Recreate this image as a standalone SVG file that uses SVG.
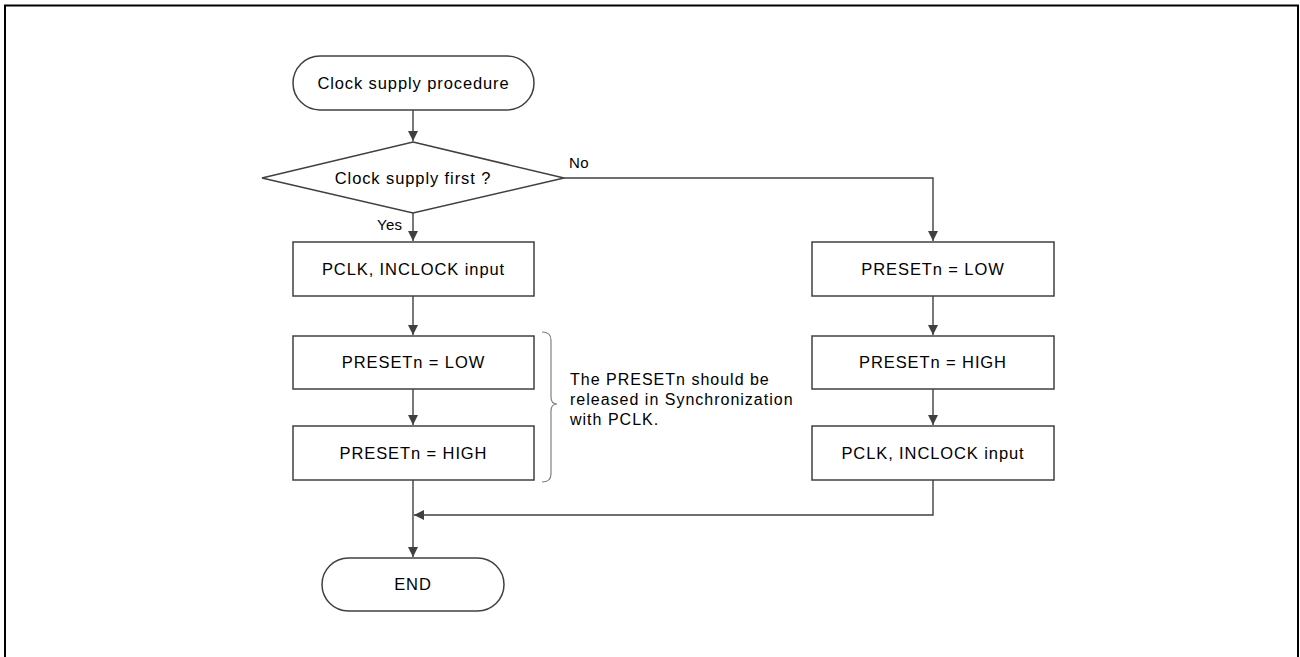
<svg xmlns="http://www.w3.org/2000/svg" width="1300" height="657" viewBox="0 0 1300 657">
<style>
.shape{fill:#fff;stroke:#404040;stroke-width:1.5}
.line{fill:none;stroke:#404040;stroke-width:1.4}
.t{font-family:"Liberation Sans",Arial,sans-serif;font-size:16.5px;letter-spacing:0.9px;fill:#000}
.c{text-anchor:middle}
.s{font-size:15px;letter-spacing:0.3px}
.n{font-size:16px;letter-spacing:1px}
</style>
<defs>
<marker id="ah" viewBox="0 0 10 10" refX="10" refY="5" markerWidth="10" markerHeight="10" markerUnits="userSpaceOnUse" orient="auto">
<path d="M0,0 L10,5 L0,10 z" fill="#404040"/>
</marker>
</defs>
<path d="M5,657 V5.5 H1298 V657" fill="none" stroke="#000" stroke-width="2"/>
<g id="connectors">
<path class="line" d="M413,110 V141" marker-end="url(#ah)"/>
<path class="line" d="M413,213 V241" marker-end="url(#ah)"/>
<path class="line" d="M564,178 H933 V241" marker-end="url(#ah)"/>
<path class="line" d="M413,296 V335" marker-end="url(#ah)"/>
<path class="line" d="M413,389 V425" marker-end="url(#ah)"/>
<path class="line" d="M413,480 V557" marker-end="url(#ah)"/>
<path class="line" d="M933,296 V335" marker-end="url(#ah)"/>
<path class="line" d="M933,389 V425" marker-end="url(#ah)"/>
<path class="line" d="M933,480 V515 H414" marker-end="url(#ah)"/>
<text class="t s" x="569" y="168">No</text>
<text class="t s" x="377" y="230">Yes</text>
</g>
<g id="start">
<rect class="shape" x="293" y="56" width="241" height="54" rx="27"/>
<text class="t c" x="413.5" y="88.5">Clock supply procedure</text>
</g>
<g id="decision">
<path class="shape" d="M413,142 L564,178 L413,213 L262,178 z"/>
<text class="t c" x="413" y="183.5">Clock supply first ?</text>
</g>
<g id="left-pclk">
<rect class="shape" x="293" y="242" width="241" height="54"/>
<text class="t c" x="413.5" y="275">PCLK, INCLOCK input</text>
</g>
<g id="left-low">
<rect class="shape" x="293" y="336" width="241" height="53"/>
<text class="t c" x="413.5" y="368">PRESETn = LOW</text>
</g>
<g id="left-high">
<rect class="shape" x="293" y="426" width="241" height="54"/>
<text class="t c" x="413.5" y="459">PRESETn = HIGH</text>
</g>
<g id="note">
<path d="M542,332 Q551,332 551,340 V397 Q551,404 557,404 Q551,404 551,411 V474 Q551,482 542,482" fill="none" stroke="#808080" stroke-width="1.2"/>
<text class="t n" x="570" y="385">The PRESETn should be</text>
<text class="t n" x="570" y="405">released in Synchronization</text>
<text class="t n" x="570" y="425">with PCLK.</text>
</g>
<g id="right-low">
<rect class="shape" x="812" y="242" width="242" height="54"/>
<text class="t c" x="933" y="275">PRESETn = LOW</text>
</g>
<g id="right-high">
<rect class="shape" x="812" y="336" width="242" height="53"/>
<text class="t c" x="933" y="368">PRESETn = HIGH</text>
</g>
<g id="right-pclk">
<rect class="shape" x="812" y="426" width="242" height="54"/>
<text class="t c" x="933" y="459">PCLK, INCLOCK input</text>
</g>
<g id="end">
<rect class="shape" x="322" y="558" width="182" height="53" rx="26.5"/>
<text class="t c" x="413" y="590">END</text>
</g>
</svg>
